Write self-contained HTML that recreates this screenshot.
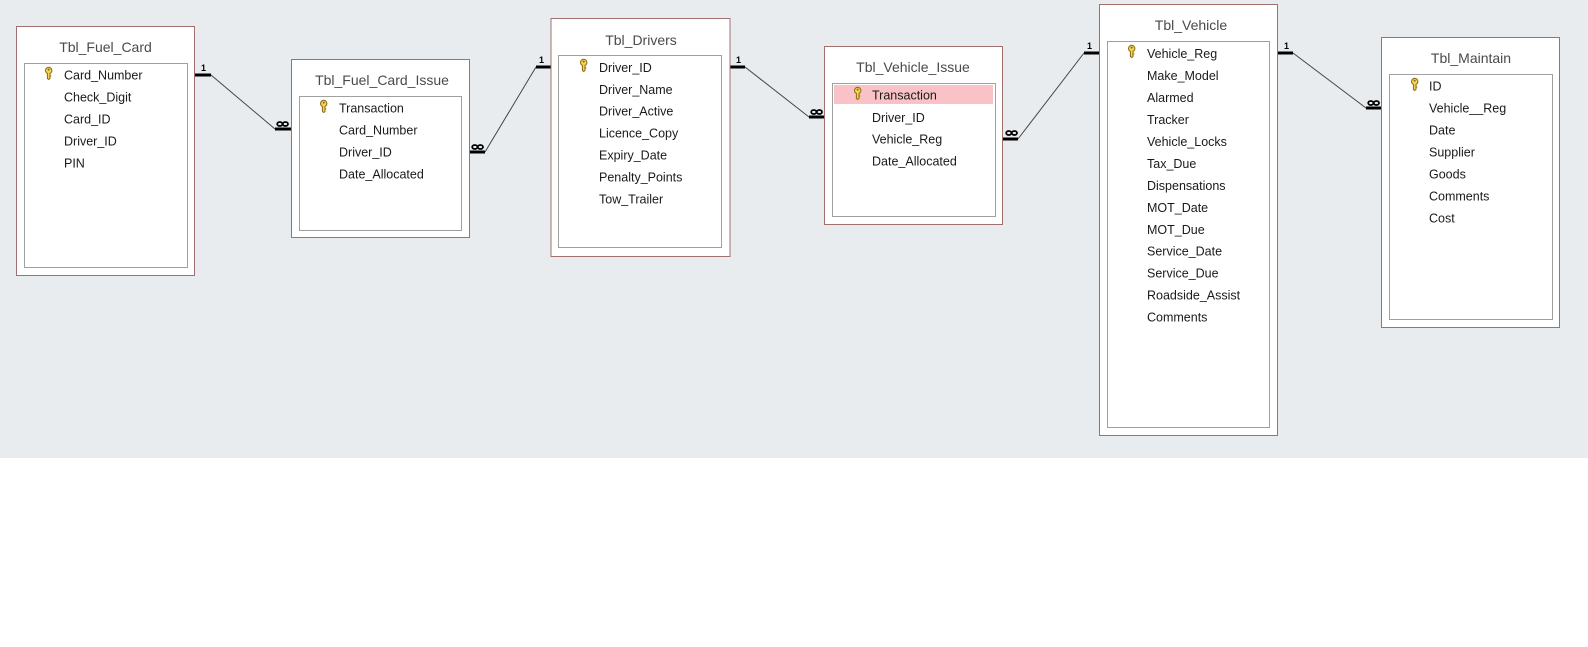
<!DOCTYPE html>
<html>
<head>
<meta charset="utf-8">
<style>
html,body{margin:0;padding:0;background:#fff;}
svg{display:block;}
.t{font-family:"Liberation Sans",Arial,sans-serif;font-size:14px;fill:#4a4a4a;}
.f{font-family:"Liberation Sans",Arial,sans-serif;font-size:12.5px;fill:#1a1a1a;}
.one{font-family:"Liberation Sans",Arial,sans-serif;font-size:9px;font-weight:bold;fill:#000;}
</style>
</head>
<body>
<svg width="1588" height="647" viewBox="0 0 1588 647" xmlns="http://www.w3.org/2000/svg">
<defs>
<g id="key">
<path d="M0.5,3.5 A3.2,3.2 0 1 1 6.9,3.5 A3.2,3.2 0 0 1 5,6.4 L5,11.5 L3.7,12.5 L2.4,11.5 L2.4,6.4 A3.2,3.2 0 0 1 0.5,3.5 Z" fill="#f2d25a" stroke="#8a6a10" stroke-width="1"/>
<circle cx="3.7" cy="2.6" r="1" fill="#8a6a10"/>
<line x1="5" y1="9" x2="6.3" y2="9" stroke="#8a6a10" stroke-width="1"/>
</g>
<g id="inf">
<ellipse cx="2.8" cy="0" rx="2.6" ry="2" fill="none" stroke="#000" stroke-width="1.8"/>
<ellipse cx="8.4" cy="0" rx="2.6" ry="2" fill="none" stroke="#000" stroke-width="1.8"/>
</g>
</defs>
<rect x="0" y="0" width="1588" height="458" fill="#e9ecef"/>

<!-- Connectors -->
<g stroke="#444" stroke-width="1" fill="none">
<line x1="211" y1="75" x2="275" y2="129"/>
<line x1="485" y1="152" x2="536" y2="67"/>
<line x1="745" y1="67" x2="809" y2="117"/>
<line x1="1018" y1="139" x2="1084" y2="53"/>
<line x1="1293" y1="53" x2="1366" y2="108"/>
</g>
<g stroke="#000" stroke-width="3">
<line x1="195" y1="75" x2="211" y2="75"/>
<line x1="275" y1="129" x2="291" y2="129"/>
<line x1="470" y1="152" x2="485" y2="152"/>
<line x1="536" y1="67" x2="551" y2="67"/>
<line x1="730" y1="67" x2="745" y2="67"/>
<line x1="809" y1="117" x2="824" y2="117"/>
<line x1="1003" y1="139" x2="1018" y2="139"/>
<line x1="1084" y1="53" x2="1099" y2="53"/>
<line x1="1278" y1="53" x2="1293" y2="53"/>
<line x1="1366" y1="108" x2="1381" y2="108"/>
</g>
<text class="one" x="201" y="71">1</text>
<use href="#inf" x="277" y="124"/>
<use href="#inf" x="472" y="147"/>
<text class="one" x="539" y="63">1</text>
<text class="one" x="736" y="63">1</text>
<use href="#inf" x="811" y="112"/>
<use href="#inf" x="1006" y="133"/>
<text class="one" x="1087" y="49">1</text>
<text class="one" x="1284" y="49">1</text>
<use href="#inf" x="1368" y="103"/>

<!-- Table 1: Tbl_Fuel_Card -->
<rect x="16.5" y="26.5" width="178" height="249" fill="#fff" stroke="#a07070" stroke-width="1"/>
<rect x="24.5" y="63.5" width="163" height="204" fill="#fff" stroke="#a0a0a0" stroke-width="1"/>
<text class="t" x="105.5" y="52" text-anchor="middle">Tbl_Fuel_Card</text>
<use href="#key" x="45" y="67"/>
<text class="f" x="64" y="79.5">Card_Number</text>
<text class="f" x="64" y="101.5">Check_Digit</text>
<text class="f" x="64" y="123.5">Card_ID</text>
<text class="f" x="64" y="145.5">Driver_ID</text>
<text class="f" x="64" y="167.5">PIN</text>

<!-- Table 2: Tbl_Fuel_Card_Issue -->
<rect x="291.5" y="59.5" width="178" height="178" fill="#fff" stroke="#a07070" stroke-width="1"/>
<rect x="299.5" y="96.5" width="162" height="134" fill="#fff" stroke="#a0a0a0" stroke-width="1"/>
<text class="t" x="382" y="85" text-anchor="middle">Tbl_Fuel_Card_Issue</text>
<use href="#key" x="320" y="100"/>
<text class="f" x="339" y="112.5">Transaction</text>
<text class="f" x="339" y="134.5">Card_Number</text>
<text class="f" x="339" y="156.5">Driver_ID</text>
<text class="f" x="339" y="178.5">Date_Allocated</text>

<!-- Table 3: Tbl_Drivers -->
<rect x="551" y="18.5" width="179" height="238" fill="#fff" stroke="#a07070" stroke-width="1"/>
<rect x="558.5" y="55.5" width="163" height="192" fill="#fff" stroke="#a0a0a0" stroke-width="1"/>
<text class="t" x="641" y="45" text-anchor="middle">Tbl_Drivers</text>
<use href="#key" x="580" y="59"/>
<text class="f" x="599" y="72">Driver_ID</text>
<text class="f" x="599" y="94">Driver_Name</text>
<text class="f" x="599" y="115.5">Driver_Active</text>
<text class="f" x="599" y="137.5">Licence_Copy</text>
<text class="f" x="599" y="159.5">Expiry_Date</text>
<text class="f" x="599" y="181.5">Penalty_Points</text>
<text class="f" x="599" y="203.5">Tow_Trailer</text>

<!-- Table 4: Tbl_Vehicle_Issue -->
<rect x="824.5" y="46.5" width="178" height="178" fill="#fff" stroke="#a07070" stroke-width="1"/>
<rect x="832.5" y="83.5" width="163" height="133" fill="#fff" stroke="#a0a0a0" stroke-width="1"/>
<rect x="834" y="85" width="159" height="19" fill="#f9c2c6"/>
<text class="t" x="913" y="72" text-anchor="middle">Tbl_Vehicle_Issue</text>
<use href="#key" x="854" y="87"/>
<text class="f" x="872" y="99.5">Transaction</text>
<text class="f" x="872" y="122">Driver_ID</text>
<text class="f" x="872" y="143.5">Vehicle_Reg</text>
<text class="f" x="872" y="165.5">Date_Allocated</text>

<!-- Table 5: Tbl_Vehicle -->
<rect x="1099.5" y="4.5" width="178" height="431" fill="#fff" stroke="#a07070" stroke-width="1"/>
<rect x="1107.5" y="41.5" width="162" height="386" fill="#fff" stroke="#a0a0a0" stroke-width="1"/>
<text class="t" x="1191" y="30" text-anchor="middle">Tbl_Vehicle</text>
<use href="#key" x="1128" y="45"/>
<text class="f" x="1147" y="58">Vehicle_Reg</text>
<text class="f" x="1147" y="80">Make_Model</text>
<text class="f" x="1147" y="102">Alarmed</text>
<text class="f" x="1147" y="124">Tracker</text>
<text class="f" x="1147" y="146">Vehicle_Locks</text>
<text class="f" x="1147" y="168">Tax_Due</text>
<text class="f" x="1147" y="190">Dispensations</text>
<text class="f" x="1147" y="212">MOT_Date</text>
<text class="f" x="1147" y="234">MOT_Due</text>
<text class="f" x="1147" y="255.5">Service_Date</text>
<text class="f" x="1147" y="277.5">Service_Due</text>
<text class="f" x="1147" y="299.5">Roadside_Assist</text>
<text class="f" x="1147" y="321.5">Comments</text>

<!-- Table 6: Tbl_Maintain -->
<rect x="1381.5" y="37.5" width="178" height="290" fill="#fff" stroke="#a07070" stroke-width="1"/>
<rect x="1389.5" y="74.5" width="163" height="245" fill="#fff" stroke="#a0a0a0" stroke-width="1"/>
<text class="t" x="1471" y="63" text-anchor="middle">Tbl_Maintain</text>
<use href="#key" x="1411" y="78"/>
<text class="f" x="1429" y="90.5">ID</text>
<text class="f" x="1429" y="112.5">Vehicle__Reg</text>
<text class="f" x="1429" y="134.5">Date</text>
<text class="f" x="1429" y="156.5">Supplier</text>
<text class="f" x="1429" y="178.5">Goods</text>
<text class="f" x="1429" y="200.5">Comments</text>
<text class="f" x="1429" y="222.5">Cost</text>
</svg>
</body>
</html>
